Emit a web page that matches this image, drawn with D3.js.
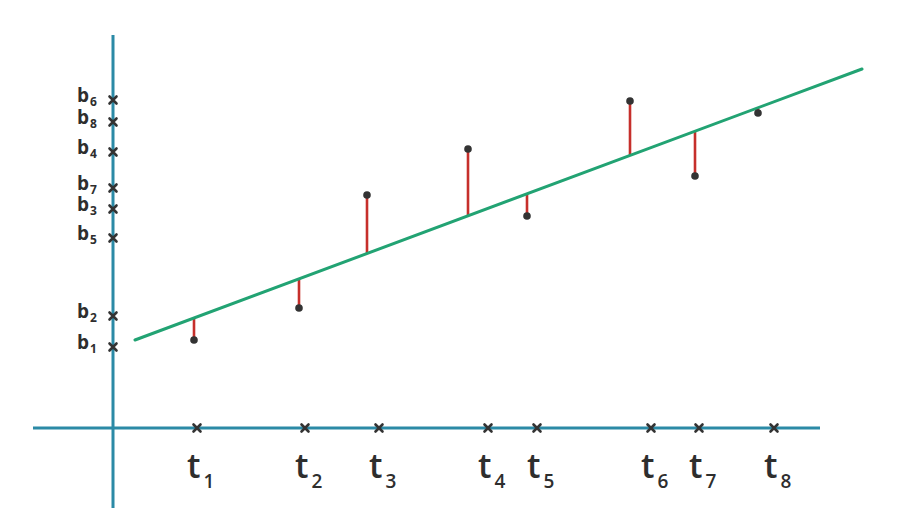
<!DOCTYPE html>
<meta charset="utf-8">
<style>
body { margin: 0; background: #fff; }
.axis { stroke: #2b8aa6; stroke-width: 3px; fill: none; }
.fit { stroke: #22a373; stroke-width: 3px; fill: none; stroke-linecap: round; }
.resid { stroke: #c62f2b; stroke-width: 2.6px; }
.mark { stroke: #333; stroke-width: 2.6px; stroke-linecap: round; }
.pt { fill: #333; }
.lbl { font-family: "Open Sans", sans-serif; fill: #2e2e2e; }
</style>
<body>
<script src="https://cdn.jsdelivr.net/npm/d3@7"></script>
<script>
// tick positions on the time axis
var tNames = ["1", "2", "3", "4", "5", "6", "7", "8"];
var tVals = [8.4, 19.2, 26.6, 37.5, 42.4, 53.8, 58.6, 66.1];
// tick positions on the vertical axis
var bNames = ["1", "2", "3", "4", "5", "6", "7", "8"];
var bVals = [8.1, 11.2, 21.9, 27.6, 19.0, 32.8, 24.0, 30.6];
// observed points
var ptX = [8.1, 18.6, 25.4, 35.5, 41.4, 51.7, 58.2, 64.5];
var ptY = [8.8, 12.0, 23.3, 27.9, 21.2, 32.7, 25.2, 31.5];
// fitted line b = a + m t
var fitA = 7.98, fitM = 0.3728;
var fitRange = [2.2, 74.9];

var width = 903, height = 529;

var x = d3.scaleLinear().domain([0, 10]).range([113, 213]);
var y = d3.scaleLinear().domain([0, 10]).range([428, 328]);

var svg = d3.select("body").append("svg")
    .attr("width", width)
    .attr("height", height);

// axes
svg.append("line").attr("class", "axis")
    .attr("x1", x(-8)).attr("x2", x(70.7))
    .attr("y1", y(0)).attr("y2", y(0));
svg.append("line").attr("class", "axis")
    .attr("x1", x(0)).attr("x2", x(0))
    .attr("y1", y(39.3)).attr("y2", y(-8));

function cross(cx, cy, r) {
  return "M" + (cx - r) + "," + (cy - r) + "L" + (cx + r) + "," + (cy + r) +
         "M" + (cx - r) + "," + (cy + r) + "L" + (cx + r) + "," + (cy - r);
}

// t ticks + labels
var tg = svg.selectAll("g.t")
    .data(tVals)
  .enter().append("g").attr("class", "t");
tg.append("path").attr("class", "mark")
    .attr("d", function(d) { return cross(x(d), y(0), 3.5); });
var tt = tg.append("text").attr("class", "lbl")
    .attr("x", function(d) { return x(d) - 10; })
    .attr("y", y(0) + 50)
    .style("font-size", "34px")
    .style("font-weight", 600);
tt.append("tspan").text("t");
tt.append("tspan")
    .attr("dx", 3).attr("dy", 10)
    .style("font-size", "19px")
    .text(function(d, i) { return tNames[i]; });

// b ticks + labels
var bg = svg.selectAll("g.b")
    .data(bVals)
  .enter().append("g").attr("class", "b");
bg.append("path").attr("class", "mark")
    .attr("d", function(d) { return cross(x(0), y(d), 3.5); });
var bt = bg.append("text").attr("class", "lbl")
    .attr("x", x(0) - 36)
    .attr("y", function(d) { return y(d) + 2; })
    .style("font-size", "19px")
    .style("font-weight", 700);
bt.append("tspan").text("b");
bt.append("tspan")
    .attr("dx", 1).attr("dy", 4)
    .style("font-size", "12px")
    .text(function(d, i) { return bNames[i]; });

// residuals
var pts = ptX.map(function(d, i) { return [d, ptY[i]]; });
svg.selectAll("line.resid")
    .data(pts)
  .enter().append("line").attr("class", "resid")
    .attr("x1", function(d) { return x(d[0]); })
    .attr("x2", function(d) { return x(d[0]); })
    .attr("y1", function(d) { return y(d[1]); })
    .attr("y2", function(d) { return y(fitA + fitM * d[0]); });

// fitted line
svg.append("path").attr("class", "fit")
    .datum(fitRange)
    .attr("d", d3.line()
        .x(function(d) { return x(d); })
        .y(function(d) { return y(fitA + fitM * d); }));

// points
svg.selectAll("circle.pt")
    .data(pts)
  .enter().append("circle").attr("class", "pt")
    .attr("cx", function(d) { return x(d[0]); })
    .attr("cy", function(d) { return y(d[1]); })
    .attr("r", 3.8);
</script>
